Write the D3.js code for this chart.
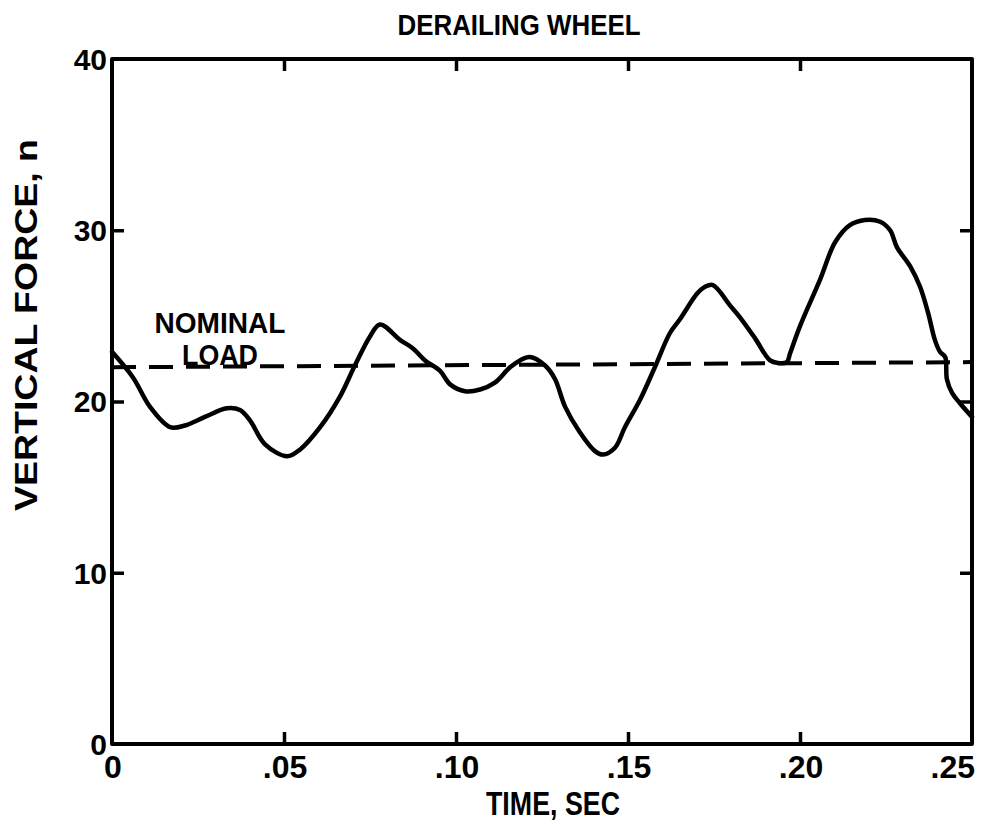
<!DOCTYPE html>
<html>
<head>
<meta charset="utf-8">
<script src="https://cdn.jsdelivr.net/npm/d3@7/dist/d3.min.js"></script>
<style>
  html, body { margin: 0; padding: 0; background: #fff; }
  svg text { font-family: "Liberation Sans", Arial, sans-serif; font-weight: bold; fill: #000; }
</style>
</head>
<body>
<svg id="chart" width="981" height="825"></svg>
<script>
// Wheel vertical force record (time in seconds, force in n)
const time = [0, 0.0061, 0.0110, 0.0169, 0.0212, 0.0270, 0.0334, 0.0372, 0.0401, 0.0445,
  0.0509, 0.0547, 0.0605, 0.0663, 0.0706, 0.0750, 0.0779, 0.0837, 0.0875, 0.0910,
  0.0953, 0.0983, 0.1026, 0.1070, 0.1113, 0.1157, 0.1186, 0.1215, 0.1259, 0.1288,
  0.1317, 0.1360, 0.1404, 0.1427, 0.1462, 0.1491, 0.1535, 0.1578, 0.1622, 0.1651,
  0.1701, 0.1724, 0.1747, 0.1797, 0.1826, 0.1869, 0.1913, 0.1936, 0.1962, 0.1971,
  0.2000, 0.2058, 0.2102, 0.2145, 0.2189, 0.2233, 0.2262, 0.2282, 0.2320, 0.2349,
  0.2372, 0.2392, 0.2407, 0.2422, 0.2427, 0.2442, 0.2465, 0.2500];
const force = [22.9, 21.4, 19.7, 18.5, 18.6, 19.1, 19.6, 19.5, 18.9, 17.5,
  16.8, 17.2, 18.5, 20.3, 22.1, 23.8, 24.5, 23.6, 23.1, 22.4,
  21.8, 21.0, 20.6, 20.7, 21.1, 22.0, 22.4, 22.6, 22.1, 21.3,
  19.7, 18.2, 17.1, 16.9, 17.3, 18.5, 20.1, 22.0, 24.0, 24.8,
  26.3, 26.7, 26.8, 25.6, 24.9, 23.7, 22.4, 22.25, 22.3, 22.8,
  24.4, 27.1, 29.3, 30.3, 30.6, 30.5, 30.0, 29.0, 27.9, 26.7,
  25.2, 23.6, 22.9, 22.6, 21.3, 20.5, 19.9, 19.1];

// Nominal load reference line
const nominalTime = [0, 0.25];
const nominalLoad = [22.0, 22.3];

const xTicks = [0, 0.05, 0.10, 0.15, 0.20, 0.25];
const xTickLabels = ["0", ".05", ".10", ".15", ".20", ".25"];
const yTicks = [0, 10, 20, 30, 40];
const yTickLabels = ["0", "10", "20", "30", "40"];

const svg = d3.select("#chart");
const plot = { left: 112, right: 972, top: 59, bottom: 744 };

const x = d3.scaleLinear().domain([0, 0.25]).range([plot.left, plot.right]);
const y = d3.scaleLinear().domain([0, 40]).range([plot.bottom, plot.top]);

const tick = 12;
const axisStyle = g => {
  g.select(".domain").remove();
  g.selectAll(".tick line").attr("stroke", "#000").attr("stroke-width", 3.5);
  g.selectAll(".tick text").remove();
};

svg.append("g").attr("transform", `translate(0,${plot.bottom})`)
  .call(d3.axisBottom(x).tickValues(xTicks.slice(1, -1)).tickSizeInner(-tick).tickSizeOuter(0)).call(axisStyle);
svg.append("g").attr("transform", `translate(0,${plot.top})`)
  .call(d3.axisTop(x).tickValues(xTicks.slice(1, -1)).tickSizeInner(-tick).tickSizeOuter(0)).call(axisStyle);
svg.append("g").attr("transform", `translate(${plot.left},0)`)
  .call(d3.axisLeft(y).tickValues(yTicks.slice(1, -1)).tickSizeInner(-tick).tickSizeOuter(0)).call(axisStyle);
svg.append("g").attr("transform", `translate(${plot.right},0)`)
  .call(d3.axisRight(y).tickValues(yTicks.slice(1, -1)).tickSizeInner(-tick).tickSizeOuter(0)).call(axisStyle);

// Plot frame
svg.append("rect")
  .attr("x", plot.left).attr("y", plot.top)
  .attr("width", plot.right - plot.left).attr("height", plot.bottom - plot.top)
  .attr("fill", "none").attr("stroke", "#000").attr("stroke-width", 4)
  .attr("stroke-linejoin", "round");

// Tick labels
svg.append("g").selectAll("text").data(yTicks).join("text")
  .attr("x", plot.left - 5).attr("y", d => y(d)).attr("dy", "0.36em")
  .attr("text-anchor", "end").attr("font-size", 30)
  .text((d, i) => yTickLabels[i]);

svg.append("g").selectAll("text").data(xTicks).join("text")
  .attr("x", (d, i) => i === xTicks.length - 1 ? x(d) + 3 : x(d) + 1)
  .attr("y", plot.bottom + 34)
  .attr("text-anchor", (d, i) => i === xTicks.length - 1 ? "end" : "middle")
  .attr("font-size", 32)
  .text((d, i) => xTickLabels[i]);

// Titles
svg.append("text").attr("x", 519).attr("y", 35)
  .attr("text-anchor", "middle").attr("font-size", 30)
  .attr("textLength", 243).attr("lengthAdjust", "spacingAndGlyphs")
  .text("DERAILING WHEEL");

svg.append("text").attr("x", 553).attr("y", 815)
  .attr("text-anchor", "middle").attr("font-size", 33)
  .attr("textLength", 134).attr("lengthAdjust", "spacingAndGlyphs")
  .text("TIME, SEC");

svg.append("text")
  .attr("transform", "translate(37,325) rotate(-90)")
  .attr("text-anchor", "middle").attr("font-size", 32)
  .attr("textLength", 372).attr("lengthAdjust", "spacingAndGlyphs")
  .text("VERTICAL FORCE, n");

// Nominal load annotation
svg.append("text").attr("x", 220).attr("y", 333)
  .attr("text-anchor", "middle").attr("font-size", 29)
  .attr("textLength", 131).attr("lengthAdjust", "spacingAndGlyphs")
  .text("NOMINAL");
svg.append("text").attr("x", 220).attr("y", 365)
  .attr("text-anchor", "middle").attr("font-size", 29)
  .attr("textLength", 76).attr("lengthAdjust", "spacingAndGlyphs")
  .text("LOAD");

// Dashed nominal load line
svg.append("path")
  .datum(nominalTime.map((t, i) => [t, nominalLoad[i]]))
  .attr("d", d3.line().x(d => x(d[0])).y(d => y(d[1])))
  .attr("fill", "none").attr("stroke", "#000").attr("stroke-width", 4)
  .attr("stroke-dasharray", "24,13");

// Force trace
svg.append("path")
  .datum(time.map((t, i) => [t, force[i]]))
  .attr("d", d3.line().x(d => x(d[0])).y(d => y(d[1])).curve(d3.curveCatmullRom.alpha(0.5)))
  .attr("fill", "none").attr("stroke", "#000").attr("stroke-width", 4.5)
  .attr("stroke-linejoin", "round").attr("stroke-linecap", "round");
</script>
</body>
</html>
